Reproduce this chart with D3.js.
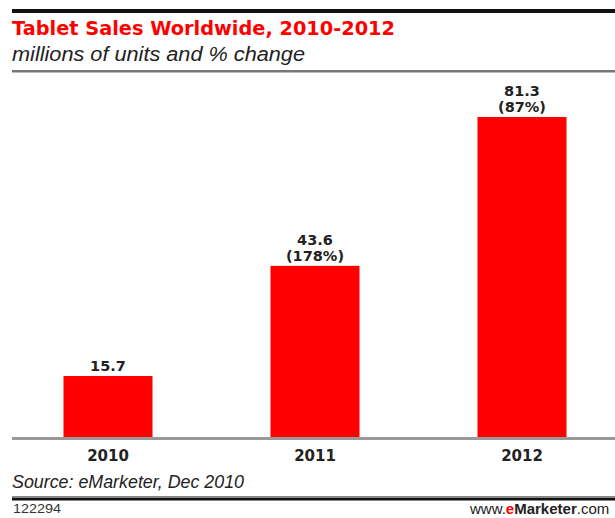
<!DOCTYPE html>
<html>
<head>
<meta charset="utf-8">
<script src="https://cdn.jsdelivr.net/npm/d3@7"></script>
<style>
  body { margin: 0; background: #fff; }
  svg { display: block; }
</style>
</head>
<body>
<div id="chart"></div>
<script>
var svgWidth = 615;
var svgHeight = 518;

// chart data
var years = ["2010", "2011", "2012"];
var units = [15.7, 43.6, 81.3];
var changes = [null, 178, 87];

var baseline = 438;

var svg = d3.select("#chart")
  .append("svg")
  .attr("width", svgWidth)
  .attr("height", svgHeight);

// top rule
svg.append("rect")
  .attr("x", 12).attr("y", 9)
  .attr("width", svgWidth - 12).attr("height", 4)
  .attr("fill", "#111");

svg.append("text")
  .attr("x", 12).attr("y", 35)
  .attr("font-family", "DejaVu Sans")
  .attr("font-weight", "bold")
  .attr("font-size", 19.5)
  .attr("textLength", 383)
  .attr("lengthAdjust", "spacingAndGlyphs")
  .attr("fill", "#f00")
  .text("Tablet Sales Worldwide, 2010-2012");

svg.append("text")
  .attr("x", 12).attr("y", 61)
  .attr("font-family", "Liberation Sans")
  .attr("font-style", "italic")
  .attr("font-size", 20)
  .attr("textLength", 293)
  .attr("lengthAdjust", "spacingAndGlyphs")
  .attr("fill", "#222")
  .text("millions of units and % change");

svg.append("rect")
  .attr("x", 12).attr("y", 70)
  .attr("width", svgWidth - 12).attr("height", 2.5)
  .attr("fill", "#777");

// scales
var x = d3.scaleBand()
  .domain(years)
  .range([4.5, 625.5])
  .paddingInner(0.57)
  .paddingOuter(0.285);

var y = d3.scaleLinear()
  .domain([0, d3.max(units)])
  .range([baseline, 117]);

var data = years.map(function(yr, i) {
  return { year: yr, value: units[i], change: changes[i] };
});

var chartGroup = svg.append("g");

chartGroup.selectAll("rect.bar")
  .data(data)
  .enter()
  .append("rect")
  .attr("class", "bar")
  .attr("x", d => x(d.year))
  .attr("y", d => y(d.value))
  .attr("width", x.bandwidth())
  .attr("height", d => baseline - y(d.value))
  .attr("fill", "#f00");

// value labels
chartGroup.selectAll("text.val")
  .data(data)
  .enter()
  .append("text")
  .attr("class", "val")
  .attr("text-anchor", "middle")
  .attr("font-family", "DejaVu Sans")
  .attr("font-weight", "bold")
  .attr("font-size", 14.5)
  .attr("fill", "#222")
  .attr("x", d => x(d.year) + x.bandwidth() / 2)
  .attr("y", d => y(d.value) - (d.change == null ? 5 : 21))
  .text(d => d.value.toFixed(1));

chartGroup.selectAll("text.chg")
  .data(data.filter(d => d.change != null))
  .enter()
  .append("text")
  .attr("class", "chg")
  .attr("text-anchor", "middle")
  .attr("font-family", "DejaVu Sans")
  .attr("font-weight", "bold")
  .attr("font-size", 14.5)
  .attr("fill", "#222")
  .attr("x", d => x(d.year) + x.bandwidth() / 2)
  .attr("y", d => y(d.value) - 5)
  .text(d => "(" + d.change + "%)");

// baseline axis
var bottomAxis = d3.axisBottom(x).tickSize(0).tickPadding(12);
var xAxis = chartGroup.append("g")
  .attr("transform", `translate(0, ${baseline})`)
  .call(bottomAxis);
xAxis.select(".domain").remove();
xAxis.selectAll("text")
  .attr("font-family", "DejaVu Sans")
  .attr("font-weight", "bold")
  .attr("font-size", 15)
  .attr("fill", "#222");

svg.append("rect")
  .attr("x", 12).attr("y", baseline - 1)
  .attr("width", svgWidth - 12).attr("height", 3)
  .attr("fill", "#999");

// footer
svg.append("text")
  .attr("x", 12).attr("y", 488)
  .attr("font-family", "Liberation Sans")
  .attr("font-style", "italic")
  .attr("font-size", 18)
  .attr("textLength", 232)
  .attr("lengthAdjust", "spacingAndGlyphs")
  .attr("fill", "#222")
  .text("Source: eMarketer, Dec 2010");

svg.append("rect")
  .attr("x", 12).attr("y", 496)
  .attr("width", svgWidth - 12).attr("height", 1)
  .attr("fill", "#888");
svg.append("rect")
  .attr("x", 12).attr("y", 497.5)
  .attr("width", svgWidth - 12).attr("height", 3)
  .attr("fill", "#111");

svg.append("text")
  .attr("x", 13).attr("y", 513)
  .attr("font-family", "Liberation Sans")
  .attr("font-size", 12)
  .attr("textLength", 48)
  .attr("lengthAdjust", "spacingAndGlyphs")
  .attr("fill", "#333")
  .text("122294");

var site = svg.append("text")
  .attr("x", 470).attr("y", 514)
  .attr("font-family", "Liberation Sans")
  .attr("font-size", 15)
  .attr("fill", "#222");
site.append("tspan").text("www.");
site.append("tspan").attr("fill", "#f00").attr("font-weight", "bold").text("e");
site.append("tspan").attr("font-weight", "bold").text("Marketer");
site.append("tspan").text(".com");
</script>
</body>
</html>
